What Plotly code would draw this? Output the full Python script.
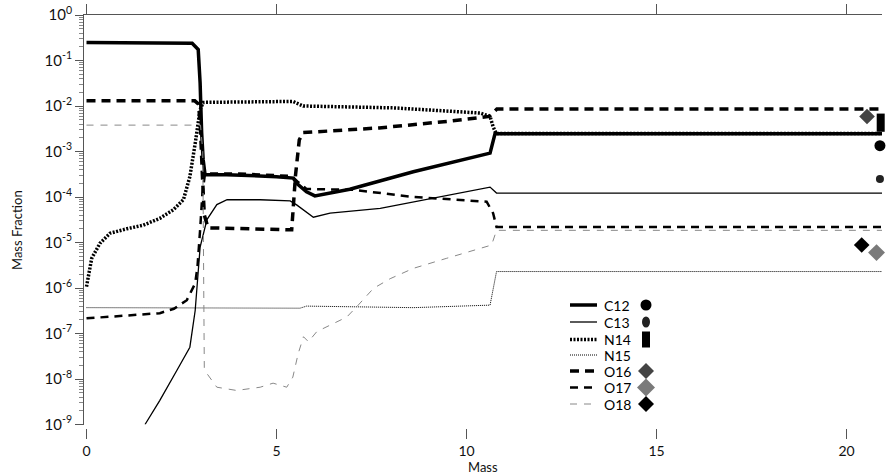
import plotly.graph_objects as go

# ---------------- data ----------------
C12_mass = [0, 2.6, 2.78, 2.94, 2.99, 3.03, 3.07, 3.12, 3.69, 5.0, 5.44, 5.53, 5.79, 6.01, 6.32, 6.93, 8.6, 10.62, 10.75, 20.95]
C12_frac = [0.25, 0.25, 0.24, 0.174, 0.032, 2.6e-3, 6.6e-4, 3.1e-4, 3.1e-4, 2.8e-4, 2.6e-4, 2.0e-4, 1.3e-4, 1.06e-4, 1.17e-4, 1.48e-4, 3.6e-4, 9.2e-4, 2.45e-3, 2.45e-3]

C13_mass = [1.54, 1.93, 2.38, 2.72, 2.86, 2.99, 3.17, 3.43, 3.70, 4.57, 5.36, 5.53, 5.97, 6.41, 7.73, 10.62, 10.79, 20.95]
C13_frac = [1e-9, 3.4e-9, 1.56e-8, 5e-8, 3.2e-7, 7.9e-6, 3.2e-5, 6.8e-5, 8.7e-5, 8.7e-5, 8.2e-5, 6.7e-5, 3.6e-5, 4.4e-5, 5.6e-5, 1.65e-4, 1.22e-4, 1.22e-4]

N14_mass = [0, 0.137, 0.355, 0.62, 1.06, 1.49, 1.93, 2.28, 2.55, 2.72, 2.86, 2.99, 3.07, 5.43, 5.70, 8.07, 10.36, 10.62, 10.70, 10.78, 20.95]
N14_frac = [1.07e-6, 4.5e-6, 9.6e-6, 1.6e-5, 2.0e-5, 2.4e-5, 3.4e-5, 5.2e-5, 8.7e-5, 2.8e-4, 1.5e-3, 8.3e-3, 1.2e-2, 1.26e-2, 1.0e-2, 9.1e-3, 7.0e-3, 5.9e-3, 3.5e-3, 2.5e-3, 2.5e-3]

N15_mass = [0, 5.45, 5.62, 5.79, 8.6, 10.62, 10.79, 20.95]
N15_frac = [3.7e-7, 3.7e-7, 3.6e-7, 4.0e-7, 3.7e-7, 4.2e-7, 2.3e-6, 2.3e-6]

O16_mass = [0, 2.85, 2.95, 3.0, 3.05, 3.1, 3.2, 5.4, 5.5, 5.6, 5.7, 7.7, 9.5, 10.36, 10.6, 10.8, 20.95]
O16_frac = [1.3e-2, 1.3e-2, 1.1e-2, 3e-3, 3e-4, 4e-5, 2.1e-5, 1.9e-5, 3e-4, 1.8e-3, 2.6e-3, 3.3e-3, 4.6e-3, 5.5e-3, 5.9e-3, 8.6e-3, 8.6e-3]

O17_mass = [0, 1.0, 1.93, 2.3, 2.64, 2.86, 2.92, 2.99, 3.05, 3.12, 4.0, 5.4, 5.55, 5.79, 7.02, 8.6, 10.53, 10.7, 10.79, 20.95]
O17_frac = [2.15e-7, 2.5e-7, 2.8e-7, 3.5e-7, 5.4e-7, 1.26e-6, 2.9e-6, 1.9e-5, 1.2e-4, 3.3e-4, 3.3e-4, 2.9e-4, 2.2e-4, 1.5e-4, 1.44e-4, 1.0e-4, 7.9e-5, 4.4e-5, 2.2e-5, 2.2e-5]

O18_mass = [0, 3.0, 3.06, 3.08, 3.1, 3.16, 3.43, 3.95, 4.57, 4.91, 5.27, 5.43, 5.57, 5.71, 5.84, 6.06, 6.41, 6.85, 7.15, 7.55, 7.99, 8.6, 9.48, 10.18, 10.66, 10.79, 20.95]
O18_frac = [3.8e-3, 3.8e-3, 1e-3, 1e-6, 1.8e-8, 1.35e-8, 6.6e-9, 5.6e-9, 6.6e-9, 8.1e-9, 6.6e-9, 1.1e-8, 3.6e-8, 8.5e-8, 6.6e-8, 1.1e-7, 1.5e-7, 2.3e-7, 4.2e-7, 9.8e-7, 1.6e-6, 2.7e-6, 4.5e-6, 6.8e-6, 8.8e-6, 1.85e-5, 1.85e-5]

# reference (symbol) values shown at the right edge
ref_names = ["C12", "C13", "N14", "O16", "O17", "O18"]
ref_mass = [20.88, 20.88, 20.9, 20.54, 20.79, 20.4]
ref_frac = [1.34e-3, 2.5e-4, 4.3e-3, 5.9e-3, 6.0e-6, 8.8e-6]

x_ticks = [0, 5, 10, 15, 20]
y_exps = list(range(-9, 1))

# ---------------- styling ----------------
W, H = 886, 476
ML, MR, MT, MB = 84, 4, 15, 48
PW, PH = W - ML - MR, H - MT - MB
FONT = "Lato, 'Open Sans', sans-serif"
AX = "#555555"

series = [
    ("C12", C12_mass, C12_frac, dict(color="black", width=3.5, dash="solid")),
    ("C13", C13_mass, C13_frac, dict(color="black", width=1.3, dash="solid")),
    ("N14", N14_mass, N14_frac, dict(color="black", width=3.5, dash="2px,1.5px")),
    ("N15", N15_mass, N15_frac, dict(color="black", width=1, dash="1px,1px")),
    ("O16", O16_mass, O16_frac, dict(color="black", width=3.5, dash="9px,6px")),
    ("O17", O17_mass, O17_frac, dict(color="black", width=2.5, dash="8px,6px")),
    ("O18", O18_mass, O18_frac, dict(color="#888888", width=1, dash="7px,7px")),
]

marker_style = {
    "C12": dict(symbol="circle", size=11, color="black"),
    "C13": dict(symbol="circle", size=8, color="#222222"),
    "N14": dict(symbol="line-ns", size=13, color="black", line=dict(color="black", width=8)),
    "O16": dict(symbol="diamond", size=12, color="#444444"),
    "O17": dict(symbol="diamond", size=13, color="#7a7a7a"),
    "O18": dict(symbol="diamond", size=12, color="black"),
}

fig = go.Figure()
for name, xm, yf, ls in series:
    fig.add_trace(go.Scatter(x=xm, y=yf, mode="lines", name=name, line=ls,
                             showlegend=False, hoverinfo="x+y+name"))

for name, xm, yf in zip(ref_names, ref_mass, ref_frac):
    fig.add_trace(go.Scatter(x=[xm], y=[yf], mode="markers", name=name + " ref",
                             marker=marker_style[name], showlegend=False, cliponaxis=False))

# empty trace so the mirrored top axis is drawn
fig.add_trace(go.Scatter(x=[], y=[], xaxis="x2", showlegend=False, hoverinfo="skip"))

# ---------------- manual legend ----------------
def paper(px, py):
    return (px - ML) / PW, (H - MB - py) / PH

legend_rows = [305, 322, 339.5, 355, 371, 387.5, 404]
shapes, annotations = [], []
for (name, _, _, ls), py in zip(series, legend_rows):
    x0, y0 = paper(570, py)
    x1, _ = paper(597, py)
    shapes.append(dict(type="line", xref="paper", yref="paper", x0=x0, x1=x1, y0=y0, y1=y0,
                       line=dict(color=ls["color"], width=ls["width"], dash=ls["dash"])))
    tx, ty = paper(603, py)
    annotations.append(dict(text=name, xref="paper", yref="paper", x=tx, y=ty, xanchor="left",
                            yanchor="middle", showarrow=False, borderpad=0,
                            font=dict(family=FONT, size=14, color="black")))
    mx, my = paper(646, py)
    base = dict(xref="paper", yref="paper", xsizemode="pixel", ysizemode="pixel", xanchor=mx, yanchor=my,
                line=dict(width=0))
    if name == "C12":
        shapes.append(dict(type="circle", x0=-5.5, x1=5.5, y0=-5.5, y1=5.5, fillcolor="black", **base))
    elif name == "C13":
        shapes.append(dict(type="circle", x0=-4, x1=4, y0=-5.5, y1=5.5, fillcolor="#222222", **base))
    elif name == "N14":
        shapes.append(dict(type="rect", x0=-4, x1=4, y0=-8, y1=8, fillcolor="black", **base))
    elif name in ("O16", "O17", "O18"):
        col = {"O16": "#444444", "O17": "#7a7a7a", "O18": "black"}[name]
        r = 9 if name == "O17" else 8
        shapes.append(dict(type="path", path=f"M 0 {r} L {r} 0 L 0 {-r} L {-r} 0 Z",
                           fillcolor=col, **base))

# axis titles as annotations (fixed pixel placement)
annotations.append(dict(text="Mass", xref="paper", yref="paper", x=paper(483, 0)[0], y=paper(0, 467)[1],
                        xanchor="center", yanchor="middle", showarrow=False,
                        font=dict(family=FONT, size=13, color="#111111")))
annotations.append(dict(text="Mass Fraction", xref="paper", yref="paper", x=paper(17, 0)[0], y=paper(0, 230)[1],
                        xanchor="center", yanchor="middle", showarrow=False, textangle=-90,
                        font=dict(family=FONT, size=13, color="#111111")))

xr = [(ML - 86.5) / 38, (W - MR - 86.5) / 38]
ydom0 = (H - MB - 424.5) / PH

fig.update_layout(
    width=W, height=H,
    margin=dict(l=ML, r=MR, t=MT, b=MB, autoexpand=False),
    paper_bgcolor="white", plot_bgcolor="white",
    font=dict(family=FONT, size=13, color="#111111"),
    shapes=shapes, annotations=annotations,
    showlegend=False,
    xaxis=dict(range=xr, anchor="free", position=0, showline=False, showgrid=False, zeroline=False,
               automargin=False,
               tickvals=x_ticks, ticks="outside", ticklen=10, tickcolor=AX, tickwidth=1,
               tickfont=dict(size=14)),
    xaxis2=dict(range=xr, overlaying="x", side="top", anchor="y", showline=True, linecolor=AX,
                linewidth=1, showgrid=False, zeroline=False, tickvals=x_ticks, ticks="outside",
                automargin=False, ticklen=10, tickcolor=AX, showticklabels=False),
    yaxis=dict(type="log", range=[-9, 0], domain=[ydom0, 1], showline=True, linecolor=AX, linewidth=1,
               showgrid=False, zeroline=False, automargin=False,
               tickvals=[10.0 ** e for e in y_exps],
               ticktext=[f"10<sup>{e}</sup>" for e in y_exps],
               ticks="outside", ticklen=8, tickcolor=AX, tickfont=dict(size=15),
               minor=dict(tickvals=[k * 10.0 ** e for e in range(-9, 0) for k in range(2, 10)],
                          ticks="outside", ticklen=4, tickcolor="#888888")),
)

fig.write_html("out.html", config={"displayModeBar": False},
               post_script="document.body.style.margin='0';document.body.style.overflow='hidden';")
